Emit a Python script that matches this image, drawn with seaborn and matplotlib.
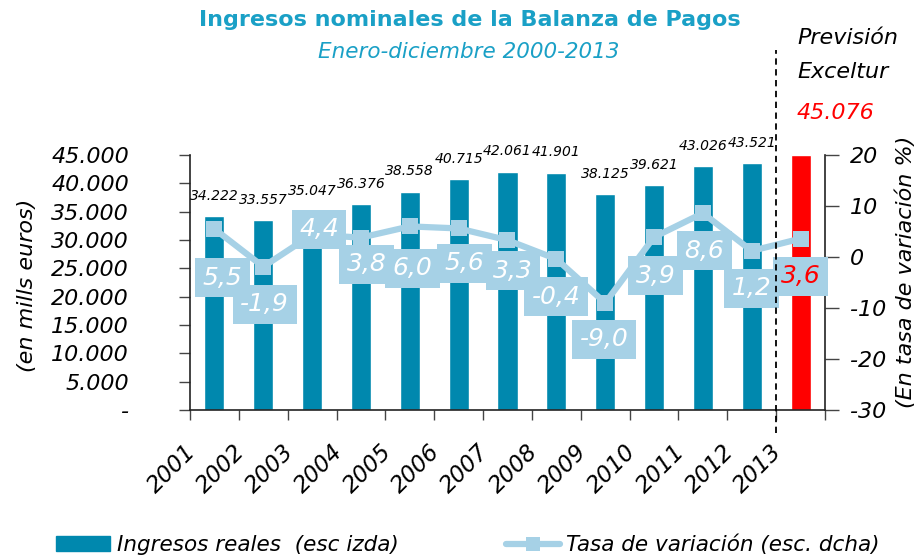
import pandas as pd
import seaborn as sns
import matplotlib.pyplot as plt
from matplotlib.lines import Line2D
from matplotlib.patches import Patch
from matplotlib.transforms import ScaledTranslation
from matplotlib.ticker import FuncFormatter

# ---------------------------------------------------------------------------#
years = ['2001', '2002', '2003', '2004', '2005', '2006', '2007',
         '2008', '2009', '2010', '2011', '2012', '2013']
ingresos = [34222, 33557, 35047, 36376, 38558, 40715, 42061,
            41901, 38125, 39621, 43026, 43521, 45076]
tasa = [5.5, -1.9, 4.4, 3.8, 6.0, 5.6, 3.3, -0.4, -9.0, 3.9, 8.6, 1.2, 3.6]
prevision = '45.076'

# label placement for the rate boxes (points, relative to each marker)
lab_dx = [6, 1, 5, 4, 2, 4, 4, 0, -1, 1, 1, 0, 0]
lab_dy = [-35, -27, 4, -19, -30, -25, -22, -27, -26, -28, -27, -27, -27]

BLUE = '#0088ae'
LIGHT = '#a6d1e6'
RED = '#ff0000'
TITLE = '#1aa0c6'

df = pd.DataFrame({'year': years, 'ingresos': ingresos, 'tasa': tasa})
df['pos'] = range(len(df))
bar_colors = {y: BLUE for y in years}
bar_colors[years[-1]] = RED

sns.set_style('white')
plt.rcParams['font.family'] = ['DejaVu Sans']
plt.rcParams['axes.unicode_minus'] = False
plt.rcParams['text.color'] = 'black'
plt.rcParams['xtick.color'] = 'black'
plt.rcParams['ytick.color'] = 'black'
plt.rcParams['axes.labelcolor'] = 'black'

fig = plt.figure(figsize=(9.24, 5.6), dpi=100)
W, H = 924, 560
ax = fig.add_axes([190 / W, 1 - 410 / H, 635 / W, 255 / H])

sns.barplot(data=df, x='year', y='ingresos', hue='year', palette=bar_colors,
            width=0.41, legend=False, saturation=1, ax=ax)
ax.set_xlim(-0.5, len(years) - 0.5)
ax.set_ylim(0, 45000)
ax.set_yticks(range(0, 45001, 5000))
ax.yaxis.set_major_formatter(FuncFormatter(
    lambda v, p: '-' if v == 0 else f'{int(v):,}'.replace(',', '.')))
ax.tick_params(axis='y', which='major', direction='out', length=8, width=1,
               left=True, pad=36, labelsize=16, color='#444444')
for t in ax.get_yticklabels():
    t.set_style('italic')
ax.set_xlabel('')
ax.set_ylabel('')

# category ticks between bars, rotated labels under each bar
ax.set_xticks([p - 0.5 for p in df['pos']] + [len(years) - 0.5], minor=True)
ax.tick_params(axis='x', which='minor', direction='out', length=7, width=1,
               bottom=True, color='#444444')
ax.tick_params(axis='x', which='major', length=0, pad=22, labelsize=16.5)
ax.set_xticks(df['pos'])
ax.set_xticklabels(years, rotation=45, ha='right', va='top',
                   rotation_mode='anchor', style='italic')
shift = ScaledTranslation(-0.30, 0, fig.dpi_scale_trans)
for t in ax.get_xticklabels():
    t.set_transform(t.get_transform() + shift)

for s in ['top', 'right']:
    ax.spines[s].set_visible(False)
for s in ['left', 'bottom']:
    ax.spines[s].set_color('#222222')
    ax.spines[s].set_linewidth(1.2)

for p, v in zip(df['pos'][:-1], df['ingresos'][:-1]):
    ax.annotate(f'{v:,}'.replace(',', '.'), (p, v), xytext=(0, 9.5),
                textcoords='offset points', ha='center', va='bottom',
                fontsize=10, style='italic', color='black')

# rate of change on the right axis
ax2 = ax.twinx()
sns.lineplot(data=df, x='pos', y='tasa', color=LIGHT, linewidth=4.5,
             marker='s', markersize=12, markeredgewidth=0, ax=ax2)
ax2.set_ylim(-30, 20)
ax2.set_yticks(range(-30, 21, 10))
ax2.set_xlim(-0.5, len(years) - 0.5)
ax2.set_xlabel('')
ax2.set_ylabel('')
ax2.tick_params(axis='y', direction='out', length=10, width=1, right=True,
                pad=8, labelsize=16, color='#444444')
for t in ax2.get_yticklabels():
    t.set_style('italic')
    t.set_horizontalalignment('left')
for s in ['top', 'left', 'bottom']:
    ax2.spines[s].set_visible(False)
ax2.spines['right'].set_color('#222222')
ax2.spines['right'].set_linewidth(1.2)

for i, (p, v) in enumerate(zip(df['pos'], df['tasa'])):
    txt = f'{v:.1f}'.replace('.', ',')
    ax2.annotate(txt, (p, v), xytext=(lab_dx[i], lab_dy[i]),
                 textcoords='offset points', ha='center', va='center',
                 fontsize=18, style='italic',
                 color=RED if i == len(years) - 1 else 'white',
                 bbox=dict(boxstyle='square,pad=0.3', fc=LIGHT, ec='none'),
                 zorder=5)

# forecast separator, between 2012 and 2013
sep_x = ax.transData.transform((len(years) - 1.5, 0))[0] / W
fig.add_artist(Line2D([sep_x, sep_x], [1 - 433 / H, 1 - 50 / H],
                      color='black', linestyle=(0, (3.5, 2.5)),
                      linewidth=1.3))

# titles and side texts
fig.text(470 / W, 1 - 20 / H, 'Ingresos nominales de la Balanza de Pagos',
         ha='center', va='center', fontsize=16, fontweight='bold', color=TITLE)
fig.text(469 / W, 1 - 52 / H, 'Enero-diciembre 2000-2013', ha='center',
         va='center', fontsize=15.5, style='italic', color=TITLE)
fig.text(797 / W, 1 - 38 / H, 'Previsión', ha='left', va='center',
         fontsize=16, style='italic')
fig.text(797 / W, 1 - 72 / H, 'Exceltur', ha='left', va='center',
         fontsize=16, style='italic')
fig.text(797 / W, 1 - 113 / H, prevision, ha='left', va='center',
         fontsize=16, style='italic', color=RED)
fig.text(27 / W, 1 - 285 / H, '(en mills euros)', ha='center', va='center',
         rotation=90, fontsize=16, style='italic')
fig.text(906 / W, 1 - 272 / H, '(En tasa de variación %)', ha='center',
         va='center', rotation=90, fontsize=16, style='italic')

handles = [Patch(color=BLUE),
           Line2D([], [], color=LIGHT, linewidth=4.5, marker='s',
                  markersize=10, markeredgewidth=0)]
leg = fig.legend(handles, ['Ingresos reales  (esc izda)',
                           'Tasa de variación (esc. dcha)'],
                 loc='center left', bbox_to_anchor=(37 / W, 1 - 545 / H),
                 ncol=2, frameon=False, fontsize=15.5, handlelength=2.5,
                 handletextpad=0.3, columnspacing=5)
for t in leg.get_texts():
    t.set_style('italic')

plt.savefig('out.png', dpi=100)
